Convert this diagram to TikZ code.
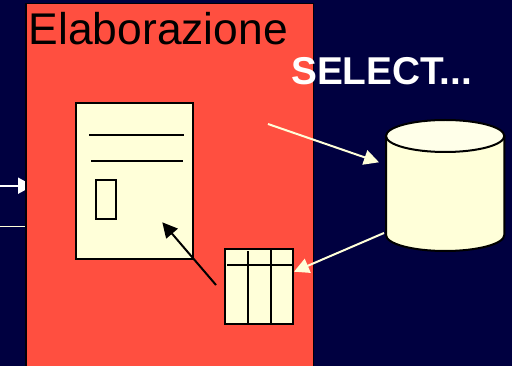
\documentclass[tikz,border=0pt]{standalone}
\usepackage{fontspec}
\setmainfont{Liberation Sans}
\usetikzlibrary{arrows.meta}
\definecolor{navybg}{HTML}{000040}
\definecolor{redbox}{HTML}{FF4F40}
\definecolor{cream}{HTML}{FFFFD9}
\definecolor{creamtop}{HTML}{FFFFE9}
\tikzset{
  px/.style={x=1pt,y=-1pt},
  shapeline/.style={draw=black,line width=2pt},
  paper/.style={shapeline,fill=cream},
  rule/.style={draw=black,line width=2pt},
  lightarrow/.style={draw=cream,line width=2pt,-{Triangle[length=15pt,width=15pt,fill=cream]}},
  darkarrow/.style={draw=black,line width=2pt,-{Triangle[length=15pt,width=15pt,fill=black]}},
}
\begin{document}
\begin{tikzpicture}[px]
\useasboundingbox (0,0) rectangle (512,366);
\fill[navybg] (0,0) rectangle (512,366);
% incoming arrows from the left (heads partly hidden by the box)
\coordinate (inA) at (0,185.7);
\coordinate (inAend) at (33,185.7);
\coordinate (inB) at (0,226.3);
\coordinate (inBend) at (25,226.3);
\draw[draw=white,line width=2pt,-{Triangle[length=15pt,width=16pt,fill=white]}] (inA) -- (inAend);
\draw[draw=cream,line width=1.5pt] (inB) -- (inBend);
% red box
\begin{scope}
\clip (0,0) rectangle (512,366);
\draw[draw=black!85!navybg,line width=1.5pt,fill=redbox] (26,3.5) rectangle (313.5,372);
\end{scope}
% document
\draw[paper] (75.7,103.5) rectangle (193.3,259);
\coordinate (docAl) at (89,134.7); \coordinate (docAr) at (184,134.7);
\coordinate (docBl) at (91,160.7); \coordinate (docBr) at (183,160.7);
\draw[rule] (docAl) -- (docAr);
\draw[rule] (docBl) -- (docBr);
\draw[shapeline,fill=cream] (95.5,180.3) rectangle (116,219.3);
% table
\draw[paper] (225,249) rectangle (293.3,323.7);
\coordinate (hl) at (227,264.7); \coordinate (hr) at (293,264.7);
\coordinate (vAt) at (248,251.5); \coordinate (vAb) at (248,325.5);
\coordinate (vBt) at (270.7,249); \coordinate (vBb) at (270.7,323);
\draw[rule] (hl) -- (hr);
\draw[rule] (vAt) -- (vAb);
\draw[rule] (vBt) -- (vBb);
% cylinder
\draw[shapeline,fill=cream] (386,136) -- (386,235) arc[start angle=180,end angle=0,x radius=59.15,y radius=16] -- (504.3,136) -- cycle;
\draw[shapeline,fill=creamtop] (445.15,136) ellipse[x radius=59.15,y radius=16];
% connectors
\coordinate (selS) at (268,124); \coordinate (selE) at (379,162.3);
\coordinate (retS) at (384,233); \coordinate (retE) at (294,271.7);
\coordinate (fillS) at (216,285); \coordinate (fillE) at (162.3,222.3);
\draw[lightarrow] (selS) -- (selE);
\draw[lightarrow] (retS) -- (retE);
\draw[darkarrow] (fillS) -- (fillE);
% texts
\node[anchor=base west,inner sep=0pt,text=black,font=\fontsize{44.4pt}{44.4pt}\selectfont] (title) at (28.5,45) {Elaborazione};
\node[anchor=base west,inner sep=0pt,text=white,font=\fontsize{38.8pt}{38.8pt}\selectfont\bfseries] (select) at (291,85) {SELECT...};
\end{tikzpicture}
\end{document}
